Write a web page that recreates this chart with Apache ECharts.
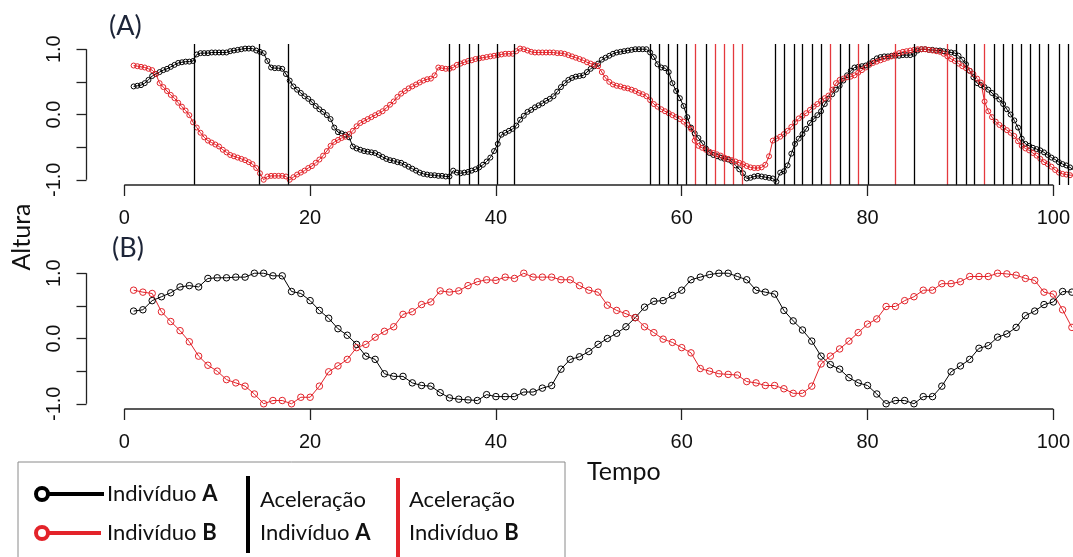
<!DOCTYPE html>
<html><head><meta charset="utf-8">
<script src="https://cdn.jsdelivr.net/npm/echarts@6/dist/echarts.min.js"></script>
<style>html,body{margin:0;padding:0;background:#fff}#c{width:1073px;height:557px}</style>
</head><body><div id="c"></div>
<script>
// ---------- data ----------
const xTicks = [0, 20, 40, 60, 80, 100];
const yTicks = [-1, -0.5, 0, 0.5, 1];
const yLabelVals = [-1, 0, 1];

// Panel (A): sampled every 0.4 time units starting at t = 1
const tStartA = 1, tStepA = 0.4;
const indivA_panelA = [
  .43,.44,.45,.48,.53,.59,.62,.65,.68,.70,
  .73,.76,.79,.80,.81,.81,.82,.92,.94,.94,
  .94,.95,.95,.95,.95,.95,.97,.98,.99,1.0,
  1.01,1.01,1.01,.98,.96,.94,.82,.72,.71,.71,
  .70,.62,.52,.43,.38,.33,.28,.24,.19,.13,
  .08,.04,-.01,-.07,-.20,-.27,-.29,-.31,-.35,-.49,
  -.52,-.54,-.56,-.57,-.58,-.59,-.62,-.65,-.68,-.70,
  -.71,-.73,-.74,-.77,-.80,-.83,-.86,-.89,-.91,-.92,
  -.93,-.93,-.94,-.94,-.95,-.95,-.86,-.89,-.90,-.89,
  -.88,-.86,-.84,-.81,-.77,-.72,-.66,-.56,-.45,-.31,
  -.28,-.25,-.22,-.17,-.08,-.02,.04,.07,.11,.14,
  .17,.21,.24,.28,.35,.42,.48,.53,.56,.58,
  .59,.60,.65,.70,.74,.78,.84,.87,.90,.93,
  .95,.96,.97,.98,.99,1.0,1.0,1.0,1.0,.95,
  .88,.77,.72,.71,.65,.48,.36,.25,.13,-.04,
  -.20,-.29,-.36,-.44,-.52,-.59,-.62,-.64,-.66,-.68,
  -.69,-.72,-.78,-.84,-.90,-.98,-.97,-.95,-.94,-.95,
  -.96,-.97,-.98,-1.03,-.89,-.87,-.78,-.60,-.45,-.37,
  -.30,-.22,-.13,-.07,-.01,.05,.16,.24,.31,.38,
  .44,.52,.60,.67,.72,.73,.74,.75,.78,.82,
  .86,.88,.89,.89,.90,.90,.90,.91,.91,.91,
  .93,.98,1.0,1.0,.99,.99,.98,.98,.97,.96,
  .95,.94,.90,.84,.77,.67,.57,.48,.45,.42,
  .38,.33,.28,.23,.16,.08,.00,-.09,-.20,-.37,
  -.45,-.48,-.51,-.53,-.55,-.58,-.62,-.66,-.69,-.73,
  -.76,-.78,-.81,-.85
];
const indivB_panelA = [
  .75,.74,.73,.72,.70,.68,.62,.48,.42,.36,
  .30,.25,.18,.12,.06,-.01,-.12,-.20,-.28,-.35,
  -.40,-.43,-.46,-.49,-.54,-.58,-.62,-.64,-.66,-.68,
  -.70,-.73,-.76,-.82,-.90,-1.0,-.95,-.94,-.94,-.94,
  -.94,-.95,-1.0,-.96,-.92,-.89,-.86,-.82,-.79,-.74,
  -.69,-.63,-.56,-.48,-.42,-.39,-.36,-.34,-.30,-.25,
  -.18,-.13,-.10,-.07,-.04,-.01,.02,.05,.10,.15,
  .20,.27,.32,.36,.40,.43,.46,.49,.52,.54,
  .55,.60,.72,.71,.70,.70,.72,.76,.78,.80,
  .82,.83,.85,.86,.87,.88,.89,.90,.91,.92,
  .93,.93,.93,.97,1.01,1.0,.98,.96,.95,.95,
  .95,.95,.95,.95,.94,.94,.93,.91,.89,.87,
  .85,.83,.80,.78,.76,.74,.65,.56,.50,.46,
  .44,.43,.41,.40,.38,.36,.33,.31,.28,.22,
  .16,.12,.08,.05,.02,-.01,-.04,-.07,-.11,-.16,
  -.22,-.40,-.48,-.51,-.54,-.57,-.59,-.61,-.63,-.66,
  -.68,-.70,-.72,-.74,-.76,-.79,-.81,-.82,-.82,-.81,
  -.77,-.64,-.40,-.37,-.34,-.30,-.25,-.19,-.12,-.06,
  -.02,.02,.07,.12,.16,.21,.25,.29,.38,.48,
  .53,.55,.57,.58,.60,.64,.68,.72,.76,.79,
  .81,.83,.85,.87,.89,.92,.94,.96,.97,.98,
  .99,1.0,1.0,1.0,.99,.98,.97,.96,.93,.89,
  .85,.82,.78,.74,.71,.67,.62,.55,.49,.20,
  .05,-.04,-.11,-.16,-.20,-.24,-.28,-.33,-.41,-.48,
  -.52,-.55,-.59,-.63,-.68,-.73,-.76,-.80,-.85,-.89,
  -.91,-.92,-.93,-.93
];
// acceleration event times (panel A vertical lines)
const accelA = [7.5,14.5,17.6,35,36,37.1,38.1,40.1,42,56.6,57.6,58.5,59.5,60.5,62.6,
  70.1,71,72.1,73,74,75,77.1,78,80.1,85,89.6,90.6,91.5,93.6,94.6,95.6,96.6,97.5,98.5,99.5,100.6,101.6];
const accelB = [61.5,63.6,64.6,65.5,66.5,76,79,83,88.6,92.6];

// Panel (B): one sample per time unit starting at t = 1
const tStartB = 1, tStepB = 1;
const indivA_panelB = [
  .42,.44,.58,.64,.70,.79,.81,.79,.92,.93,
  .93,.94,.94,1.0,1.0,.96,.96,.72,.69,.58,
  .43,.31,.15,.05,-.09,-.27,-.32,-.54,-.58,-.58,
  -.68,-.72,-.73,-.83,-.91,-.93,-.94,-.95,-.86,-.89,
  -.89,-.89,-.82,-.82,-.76,-.72,-.47,-.32,-.28,-.20,
  -.09,.00,.08,.18,.32,.48,.57,.58,.66,.74,
  .90,.94,.98,1.0,1.0,.95,.90,.74,.71,.68,
  .43,.27,.13,-.04,-.27,-.40,-.47,-.60,-.68,-.72,
  -.85,-1.0,-.95,-.95,-1.0,-.89,-.89,-.73,-.51,-.42,
  -.32,-.15,-.11,.02,.07,.17,.35,.42,.52,.56,
  .72,.71
];
const indivB_panelB = [
  .74,.71,.69,.41,.26,.12,-.05,-.27,-.41,-.50,
  -.63,-.68,-.73,-.85,-1.0,-.95,-.95,-1.0,-.90,-.90,
  -.73,-.51,-.42,-.32,-.14,-.09,.02,.11,.18,.37,
  .41,.52,.56,.73,.71,.73,.81,.87,.90,.89,
  .94,.92,1.0,.94,.94,.94,.90,.90,.81,.74,
  .71,.51,.43,.38,.32,.18,.09,-.01,-.06,-.14,
  -.22,-.46,-.50,-.54,-.55,-.56,-.66,-.68,-.72,-.72,
  -.77,-.84,-.84,-.73,-.39,-.27,-.16,-.04,.09,.22,
  .30,.49,.49,.58,.64,.74,.74,.84,.84,.87,
  .95,.95,.95,1.0,.99,.97,.92,.89,.71,.68,
  .44,.17
];

// ---------- layout / style ----------
const X_MIN = -4.07, X_MAX = 102.04, Y_MIN = -1.08, Y_MAX = 1.08;
const BLACK = '#000', RED = '#e3232a', RED_LINE = '#e4383d';
const GRID_LEFT = 86.5;
const grids = [
  {left: GRID_LEFT, top: 44, width: 1073 - GRID_LEFT, height: 141},
  {left: GRID_LEFT, top: 268, width: 1073 - GRID_LEFT, height: 141}
];

function pairs(arr, t0, dt) { return arr.map((v, i) => [t0 + i * dt, v]); }

function xAxisDef(gi) {
  return {
    type: 'value', gridIndex: gi, min: X_MIN, max: X_MAX, position: 'bottom',
    axisLine: {show: false, onZero: false}, splitLine: {show: false},
    axisTick: {show: true, customValues: xTicks, length: 11, lineStyle: {color: '#222', width: 1.3}},
    axisLabel: {show: true, customValues: xTicks, fontSize: 20, color: '#111',
      fontFamily: 'Liberation Sans, Arial, sans-serif', margin: 23}
  };
}
function yAxisDef(gi) {
  return {
    type: 'value', gridIndex: gi, min: Y_MIN, max: Y_MAX, position: 'left',
    axisLine: {show: false, onZero: false}, splitLine: {show: false},
    axisTick: {show: true, customValues: yTicks, length: 10, lineStyle: {color: '#222', width: 1.3}},
    axisLabel: {show: true, customValues: yLabelVals, rotate: 90, fontSize: 20, color: '#111',
      fontFamily: 'Liberation Sans, Arial, sans-serif', margin: 22,
      formatter: v => Number(v).toFixed(1)}
  };
}
function frameSeries(gi) {
  return {
    type: 'custom', xAxisIndex: gi, yAxisIndex: gi, silent: true, clip: false, z: 6,
    data: [[0, 0]],
    renderItem: (params, api) => {
      const p0 = api.coord([xTicks[0], Y_MIN]), p1 = api.coord([xTicks[xTicks.length - 1], Y_MIN]);
      const q0 = api.coord([X_MIN, yTicks[0]]), q1 = api.coord([X_MIN, yTicks[yTicks.length - 1]]);
      const st = {stroke: '#222', lineWidth: 1.3};
      return {type: 'group', children: [
        {type: 'line', shape: {x1: p0[0], y1: p0[1], x2: p1[0], y2: p1[1]}, style: st},
        {type: 'line', shape: {x1: q0[0], y1: q0[1], x2: q1[0], y2: q1[1]}, style: st}
      ]};
    }
  };
}
function dataSeries(gi, name, data, color, size) {
  return {
    type: 'line', name, xAxisIndex: gi, yAxisIndex: gi, data,
    symbol: 'circle', symbolSize: size, showAllSymbol: true,
    itemStyle: {color: 'rgba(255,255,255,0)', borderColor: color, borderWidth: 1},
    lineStyle: {color: color, width: 1}, z: 3, silent: true
  };
}
function accelSeries(times, color) {
  return {
    type: 'line', xAxisIndex: 0, yAxisIndex: 0, data: [], silent: true, z: 2,
    markLine: {symbol: 'none', silent: true, animation: false, label: {show: false},
      lineStyle: {color: color, width: 1.3, type: 'solid'},
      data: times.map(t => ({xAxis: t}))}
  };
}

const legendFont = 'Lato, "Open Sans", sans-serif';
function richText(x, y, txt) {
  return {type: 'text', left: x, top: y, style: {text: txt, fontSize: 22, fill: '#111', fontFamily: legendFont,
    rich: {b: {fontWeight: 'bold', fontSize: 22, fill: '#111', fontFamily: legendFont}}}};
}

const chart = echarts.init(document.getElementById('c'), null, {renderer: 'canvas'});
chart.setOption({
  animation: false,
  backgroundColor: '#fff',
  grid: grids,
  xAxis: [xAxisDef(0), xAxisDef(1)],
  yAxis: [yAxisDef(0), yAxisDef(1)],
  series: [
    accelSeries(accelA, BLACK),
    accelSeries(accelB, RED_LINE),
    dataSeries(0, 'Indivíduo A', pairs(indivA_panelA, tStartA, tStepA), BLACK, 5),
    dataSeries(0, 'Indivíduo B', pairs(indivB_panelA, tStartA, tStepA), RED, 5),
    dataSeries(1, 'Indivíduo A', pairs(indivA_panelB, tStartB, tStepB), BLACK, 6.5),
    dataSeries(1, 'Indivíduo B', pairs(indivB_panelB, tStartB, tStepB), RED, 6.5),
    frameSeries(0), frameSeries(1)
  ],
  graphic: [
    {type: 'text', left: 109, top: 13, style: {text: '(A)', fontSize: 27, fill: '#1d2538', fontFamily: legendFont}},
    {type: 'text', left: 112, top: 235, style: {text: '(B)', fontSize: 27, fill: '#1d2538', fontFamily: legendFont}},
    {type: 'text', x: 22, y: 237, rotation: Math.PI / 2,
      style: {text: 'Altura', fontSize: 25, fill: '#111', fontFamily: legendFont, align: 'center', verticalAlign: 'middle'}},
    {type: 'text', left: 587, top: 459, style: {text: 'Tempo', fontSize: 25, fill: '#111', fontFamily: legendFont}},
    // legend box
    {type: 'rect', shape: {x: 18, y: 462, width: 547, height: 110}, style: {fill: '#fff', stroke: '#8a8a8a', lineWidth: 1}},
    {type: 'line', shape: {x1: 48, y1: 494, x2: 104, y2: 494}, style: {stroke: BLACK, lineWidth: 4}},
    {type: 'circle', shape: {cx: 42, cy: 494, r: 6}, style: {fill: '#fff', stroke: BLACK, lineWidth: 4}},
    {type: 'line', shape: {x1: 48, y1: 533, x2: 101, y2: 533}, style: {stroke: RED, lineWidth: 4}},
    {type: 'circle', shape: {cx: 42, cy: 533, r: 6}, style: {fill: '#fff', stroke: RED, lineWidth: 4}},
    richText(107, 483, 'Indivíduo {b|A}'),
    richText(107, 522, 'Indivíduo {b|B}'),
    {type: 'rect', shape: {x: 246, y: 476, width: 4, height: 77}, style: {fill: BLACK}},
    richText(260, 489, 'Aceleração'),
    richText(260, 522, 'Indivíduo {b|A}'),
    {type: 'rect', shape: {x: 396, y: 478, width: 4, height: 79}, style: {fill: RED}},
    richText(409, 489, 'Aceleração'),
    richText(409, 522, 'Indivíduo {b|B}')
  ]
});
</script></body></html>
